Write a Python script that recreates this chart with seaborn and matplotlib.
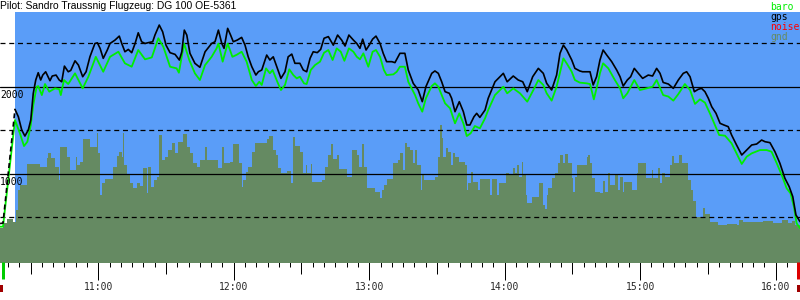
import numpy as np
import pandas as pd
import matplotlib
matplotlib.use("Agg")
import matplotlib.pyplot as plt
import seaborn as sns

TITLE = "Pilot: Sandro Traussnig Flugzeug: DG 100 OE-5361"
BASE_HOUR = 10  # times below are minutes after 10:00

# GPS altitude (m)
gps_t = [16.5, 17.8, 23.1, 24.6, 26.1, 27.5, 29.0, 30.1, 31.2, 32.3,
         33.4, 34.5, 35.4, 36.7, 38.6, 39.6, 41.3, 42.7, 43.8, 45.0,
         46.7, 47.8, 49.7, 51.2, 53.1, 54.6, 56.3, 58.5, 59.6, 60.8,
         62.2, 64.0, 65.2, 67.4, 69.3, 70.4, 71.8, 73.3, 74.8, 76.3,
         77.7, 79.2, 80.7, 82.2, 84.1, 85.1, 87.0, 88.5, 90.0, 91.8,
         94.0, 95.9, 97.0, 98.1, 99.2, 100.6, 102.8, 105.0, 107.3, 110.2,
         111.7, 113.2, 114.7, 115.7, 117.3, 118.6, 119.8, 121.6, 123.5, 125.0,
         126.4, 128.0, 129.8, 130.9, 132.4, 133.4, 134.6, 136.0, 137.5, 139.3,
         140.9, 142.7, 144.1, 145.7, 147.1, 149.3, 150.8, 152.3, 153.8, 155.2,
         157.0, 158.5, 160.0, 161.9, 164.1, 166.0, 167.8, 169.3, 171.0, 173.0,
         174.5, 175.9, 177.1, 178.6, 180.0, 181.5, 183.0, 184.8, 186.2, 187.7,
         190.0, 191.4, 193.6, 195.8, 197.3, 199.5, 201.7, 203.5, 205.1, 207.7,
         209.1, 210.6, 212.1, 213.6, 215.5, 216.5, 218.0, 219.9, 221.7, 223.2,
         224.6, 226.4, 227.6, 229.0, 231.3, 232.7, 235.7, 237.9, 239.4, 241.1,
         243.8, 246.0, 248.0, 250.0, 252.4, 254.9, 257.1, 258.6, 260.8, 263.0,
         264.5, 266.0, 267.5, 269.7, 271.1, 273.3, 274.5, 276.3, 277.8, 279.2,
         280.7, 282.2, 283.6, 285.2, 287.4, 289.6, 291.1, 292.5, 294.3, 295.8,
         297.4, 299.2, 301.1, 303.6, 305.5, 307.3, 308.8, 310.2, 312.5, 314.7,
         316.9, 319.1, 320.6, 322.1, 324.0, 325.7, 327.2, 328.7, 330.2, 331.7,
         333.6, 335.4, 337.1, 339.0, 340.5, 342.7, 345.0, 347.2, 349.4, 351.6,
         353.8, 355.3, 357.5, 359.7, 361.9, 364.1, 366.0, 367.6, 369.0, 370.8]
gps_alt = [430, 435, 1743, 1658, 1505, 1436, 1505, 1620, 1927, 2080,
           2164, 2080, 2137, 2175, 2072, 2126, 2137, 2080, 2060, 2240,
           2175, 2190, 2301, 2252, 2118, 2175, 2347, 2500, 2508, 2444,
           2329, 2425, 2500, 2539, 2585, 2500, 2405, 2432, 2394, 2500,
           2623, 2520, 2500, 2510, 2520, 2597, 2712, 2635, 2481, 2394,
           2375, 2310, 2405, 2654, 2597, 2387, 2272, 2226, 2405, 2500,
           2520, 2654, 2500, 2444, 2674, 2597, 2520, 2540, 2570, 2481,
           2347, 2233, 2137, 2175, 2195, 2272, 2367, 2310, 2347, 2214,
           2099, 2175, 2347, 2378, 2272, 2272, 2195, 2175, 2329, 2405,
           2395, 2432, 2560, 2579, 2481, 2597, 2539, 2471, 2597, 2539,
           2500, 2444, 2550, 2425, 2481, 2550, 2585, 2500, 2387, 2291,
           2291, 2280, 2387, 2387, 2195, 2042, 1965, 1831, 2003, 2157,
           2184, 2157, 2060, 1946, 1927, 1870, 1716, 1831, 1716, 1563,
           1563, 1658, 1697, 1650, 1735, 1870, 2060, 2118, 2157, 2060,
           2126, 2080, 2060, 1946, 2118, 2214, 2157, 2042, 1965, 2137,
           2387, 2481, 2425, 2310, 2214, 2184, 2175, 2175, 2175, 2023,
           2118, 2310, 2425, 2367, 2291, 2195, 2118, 2011, 2080, 2118,
           2214, 2157, 2099, 2137, 2126, 2214, 2157, 2052, 2034, 1984,
           2080, 2157, 2175, 2118, 1946, 1973, 1984, 1946, 1870, 1773,
           1697, 1582, 1563, 1544, 1448, 1333, 1218, 1275, 1333, 1344,
           1390, 1371, 1360, 1256, 1123, 951, 855, 739, 529, 452]

# Barometric altitude (m)
baro_t = [16.5, 17.8, 23.1, 25.3, 27.1, 28.6, 30.1, 31.2, 32.7, 33.4,
          35.0, 36.4, 38.3, 40.8, 42.7, 43.4, 44.8, 46.7, 49.7, 53.1,
          55.6, 58.9, 62.2, 65.2, 68.9, 71.8, 74.8, 77.7, 80.7, 83.7,
          86.6, 88.8, 91.8, 94.7, 95.7, 98.0, 100.3, 102.8, 105.0, 107.3,
          110.2, 112.4, 113.2, 115.1, 117.3, 119.4, 121.3, 123.5, 125.7, 128.0,
          129.8, 131.3, 132.4, 134.3, 136.0, 137.2, 139.3, 140.9, 142.7, 144.6,
          146.4, 147.9, 149.3, 151.1, 152.3, 154.1, 156.0, 158.2, 160.0, 161.9,
          163.8, 165.6, 167.4, 169.0, 171.0, 173.0, 174.5, 175.9, 177.4, 179.6,
          181.5, 183.0, 184.8, 186.5, 187.7, 190.7, 192.2, 193.6, 195.8, 197.3,
          200.3, 201.7, 203.5, 205.1, 207.7, 209.1, 210.6, 212.1, 213.6, 215.8,
          218.0, 219.9, 221.7, 223.2, 224.9, 226.8, 229.0, 231.3, 232.7, 235.7,
          239.4, 241.1, 243.8, 246.8, 250.0, 252.7, 254.9, 257.1, 258.6, 260.8,
          263.0, 266.0, 267.5, 269.7, 271.1, 273.3, 276.3, 277.8, 279.5, 281.4,
          282.2, 283.6, 285.9, 288.8, 291.1, 292.5, 294.3, 297.4, 299.9, 302.9,
          305.5, 307.3, 310.2, 312.5, 314.7, 316.9, 319.8, 322.1, 324.3, 326.5,
          328.7, 330.9, 333.1, 335.0, 337.6, 340.5, 342.7, 345.0, 347.2, 349.4,
          353.1, 356.0, 358.2, 360.5, 362.7, 364.9, 366.6, 368.1, 369.3, 370.8]
baro_alt = [394, 394, 1620, 1467, 1321, 1371, 1563, 1793, 2003, 2010,
            1907, 2034, 1946, 1984, 1975, 1907, 2080, 2034, 2157, 1984,
            2118, 2347, 2175, 2347, 2405, 2272, 2233, 2425, 2318, 2340,
            2560, 2463, 2233, 2214, 2164, 2500, 2310, 2157, 2080, 2252,
            2347, 2444, 2500, 2291, 2500, 2347, 2370, 2405, 2291, 2080,
            2011, 2060, 2023, 2214, 2157, 2195, 2060, 1965, 2023, 2203,
            2137, 2099, 2118, 2042, 2034, 2195, 2252, 2291, 2394, 2425,
            2310, 2444, 2405, 2301, 2444, 2405, 2347, 2318, 2387, 2233,
            2405, 2425, 2347, 2195, 2137, 2145, 2175, 2233, 2233, 2060,
            1907, 1812, 1716, 1870, 2011, 2042, 2003, 1907, 1812, 1755,
            1582, 1697, 1582, 1436, 1467, 1551, 1525, 1640, 1735, 1907,
            2003, 1927, 1984, 1927, 1831, 1965, 2080, 2023, 1927, 1843,
            2003, 2329, 2270, 2175, 2080, 2050, 2042, 2034, 1858, 2060,
            2160, 2272, 2214, 2080, 1984, 1870, 1927, 2080, 1965, 1984,
            2003, 2080, 1907, 1890, 1843, 1918, 2034, 1965, 1805, 1858,
            1820, 1697, 1563, 1448, 1440, 1352, 1237, 1115, 1199, 1237,
            1275, 1275, 1256, 1123, 988, 835, 778, 624, 433, 376]

# Ground elevation below the glider (m), step values
gnd_t = [16.5, 17.7, 19.7, 22.4, 23.6, 24.6, 25.3, 28.3, 34.2, 37.2,
         37.9, 38.9, 40.8, 42.7, 43.0, 46.0, 47.5, 50.1, 50.7, 51.9,
         53.4, 56.3, 59.3, 60.0, 60.8, 61.5, 63.0, 66.7, 68.2, 69.3,
         70.4, 70.8, 71.4, 72.6, 74.0, 75.5, 77.0, 78.5, 80.0, 81.4,
         82.2, 83.2, 84.7, 85.9, 87.0, 88.1, 89.6, 91.0, 92.5, 94.0,
         95.4, 97.6, 99.2, 100.6, 102.1, 103.6, 105.0, 107.3, 108.0, 113.2,
         114.7, 115.7, 118.3, 119.8, 122.4, 123.5, 124.2, 125.4, 126.4, 128.0,
         129.4, 134.6, 135.7, 137.5, 138.7, 139.7, 140.8, 143.4, 145.2, 146.4,
         147.1, 149.3, 150.5, 152.0, 152.6, 154.1, 154.5, 159.0, 160.4, 161.9,
         162.9, 163.8, 165.6, 166.7, 170.0, 172.2, 174.5, 175.6, 176.7, 177.7,
         178.9, 182.6, 184.8, 185.5, 186.5, 188.0, 190.4, 192.9, 193.6, 194.8,
         195.8, 196.6, 198.0, 199.5, 200.3, 201.3, 202.8, 203.2, 204.2, 209.1,
         210.6, 211.3, 212.1, 212.8, 214.0, 215.0, 216.1, 217.0, 218.0, 219.9,
         222.4, 223.2, 223.9, 225.0, 225.8, 228.3, 229.0, 233.5, 234.2, 236.7,
         237.6, 240.6, 242.0, 243.8, 244.6, 245.6, 246.5, 247.5, 248.2, 249.4,
         250.0, 252.0, 255.3, 256.8, 257.8, 258.6, 259.3, 260.8, 262.3, 263.7,
         264.5, 266.0, 266.7, 268.2, 269.7, 270.4, 271.1, 271.9, 276.3, 277.0,
         277.8, 278.5, 280.0, 282.2, 283.4, 284.4, 285.9, 286.6, 288.8, 290.3,
         291.1, 292.3, 292.8, 296.2, 298.5, 299.2, 302.6, 305.1, 305.8, 308.0,
         308.8, 309.5, 311.0, 313.2, 313.9, 315.0, 317.3, 318.4, 321.3, 322.4,
         323.5, 324.7, 328.0, 328.7, 330.9, 334.6, 338.3, 342.7, 343.9, 345.7,
         354.5, 359.0, 362.7, 365.6, 367.1, 368.6, 370.8]
gnd_alt = [376, 433, 479, 452, 586, 816, 873, 1115, 1084, 1180,
           1237, 1180, 1084, 931, 1314, 1199, 1046, 1199, 1103, 1140,
           1398, 1314, 1467, 1237, 758, 893, 939, 1084, 1207, 1256,
           1199, 1476, 1103, 988, 900, 835, 893, 860, 1065, 778,
           1084, 855, 931, 970, 1448, 1160, 1199, 1275, 1352, 1237,
           1371, 1459, 1314, 1237, 1123, 1084, 1160, 1314, 1160, 1065,
           1314, 1123, 1140, 1344, 1123, 855, 931, 1027, 1084, 1256,
           1352, 1398, 1436, 1275, 1218, 1065, 1008, 1034, 893, 1428,
           1321, 1256, 1008, 1103, 1008, 1110, 912, 931, 1084, 1218,
           1344, 1168, 1218, 1054, 969, 1275, 1218, 1084, 1344, 1084,
           835, 797, 728, 816, 873, 943, 1123, 1160, 1237, 1046,
           1360, 1306, 1275, 1123, 1275, 1103, 816, 988, 931, 970,
           1199, 1563, 1410, 1199, 1295, 1256, 1103, 1237, 1199, 1140,
           1103, 816, 893, 1027, 912, 816, 939, 758, 939, 758,
           893, 1015, 988, 1065, 1008, 1103, 970, 1141, 988, 758,
           670, 732, 893, 643, 594, 758, 835, 958, 1015, 1123,
           1218, 1123, 1229, 1123, 950, 797, 970, 1103, 1199, 1218,
           1123, 950, 797, 785, 923, 797, 1008, 873, 988, 816,
           960, 797, 912, 816, 1008, 1130, 958, 1046, 958, 1065,
           893, 1008, 970, 1103, 1210, 1130, 1218, 1130, 931, 816,
           693, 509, 605, 540, 452, 414, 425, 414, 471, 452,
           460, 433, 471, 433, 460, 414, 414]

release_t = 23.1      # end of tow, start of free flight
takeoff_t = 17.9
landing_t = 370.1
noise_t = [17.0, 370.5]
t_start, t_end = 16.47, 370.8
hour_ticks = [11, 12, 13, 14, 15, 16]
hour_labels = ["11:00", "12:00", "13:00", "14:00", "15:00", "16:00"]
solid_levels = [1000, 2000]
dashed_levels = [500, 1500, 2500]
legend_names = ["baro", "gps", "noise", "gnd"]

assert len(gps_t) == len(gps_alt)
assert len(baro_t) == len(baro_alt)
assert len(gnd_t) == len(gnd_alt)

C_BLUE = "#5a9df8"
C_GND = "#658a62"
C_BARO = "#00ee00"
C_NOISE = "#ff0000"

def hrs(m):
    return BASE_HOUR + np.asarray(m, dtype=float) / 60.0

sns.set_style("white")
MONO = ["DejaVu Sans Mono"]

fig = plt.figure(figsize=(8, 3), dpi=100)
ax = fig.add_axes([0, 38 / 300, 1, 250 / 300])
ax.set_facecolor("white")

ax.axvspan(hrs(release_t), hrs(t_end), color=C_BLUE, lw=0, zorder=0)

gx = hrs(gnd_t)
ax.fill_between(gx, 0, gnd_alt, step="post", color=C_GND, lw=0, zorder=1)
ax.fill_between(gx, -50, 0, color=C_GND, lw=0, zorder=1)

for lv in solid_levels:
    ax.axhline(lv, color="black", lw=0.9, zorder=2)
for lv in dashed_levels:
    ax.axhline(lv, color="black", lw=0.9, ls=(0, (4, 3)), zorder=2)

df_gps = pd.DataFrame({"t": hrs(gps_t), "alt": gps_alt, "m": gps_t})
df_baro = pd.DataFrame({"t": hrs(baro_t), "alt": baro_alt})
tow = df_gps[df_gps["m"] <= release_t]
free = df_gps[df_gps["m"] >= release_t]

sns.lineplot(data=df_baro, x="t", y="alt", color=C_BARO, lw=1.3,
             estimator=None, sort=False, ax=ax, zorder=3)
sns.lineplot(data=tow, x="t", y="alt", color="black", lw=1.2,
             linestyle=(0, (3, 2)), estimator=None, sort=False, ax=ax, zorder=4)
sns.lineplot(data=free, x="t", y="alt", color="black", lw=1.2,
             estimator=None, sort=False, ax=ax, zorder=4)

ax.set_xlabel("")
ax.set_ylabel("")
for s in ax.spines.values():
    s.set_visible(False)
ax.set_yticks([])

px = 0.72
ax.set_xticks(hour_ticks)
ax.set_xticklabels(hour_labels, fontfamily=MONO, fontsize=7.0)
ax.set_xticks(hrs(np.arange(0, 380, 5)), minor=True)
ax.tick_params(axis="x", which="major", direction="out", length=18 * px,
               width=1 * px, color="black", pad=2.5 * px, bottom=True)
ax.tick_params(axis="x", which="minor", direction="out", length=5 * px,
               width=1 * px, color="black", bottom=True)

sec = ax.secondary_xaxis("bottom")
sec.set_xticks([h + 0.5 for h in [10] + hour_ticks])
sec.tick_params(axis="x", direction="out", length=12 * px, width=1 * px,
                color="black", labelbottom=False)
for s in sec.spines.values():
    s.set_visible(False)

ax.set_xlim(hrs(t_start), hrs(t_end))
ax.set_ylim(-12, 2862)

for lv in solid_levels:
    ax.annotate(str(lv), xy=(0, lv), xycoords=("axes fraction", "data"),
                xytext=(0, -2.5), textcoords="offset points",
                ha="left", va="top", fontfamily=MONO, fontsize=7.0,
                color="black", zorder=6)

trans = ax.get_xaxis_transform()
ax.vlines(hrs(takeoff_t), -17 / 250, 0, transform=trans, colors="#00cc00",
          lw=3 * px, clip_on=False, zorder=6)
ax.vlines(hrs(landing_t), -17 / 250, 0, transform=trans, colors="#dd0000",
          lw=3 * px, clip_on=False, zorder=6)
ax.vlines(hrs(noise_t), -30 / 250, -23 / 250, transform=trans,
          colors="#a00000", lw=4 * px, clip_on=False, zorder=6)

fig.text(0, 1 - 6 / 300, TITLE, ha="left", va="center",
         fontfamily=["Liberation Sans"], fontsize=7.4, color="black")

leg_colors = [C_BARO, "black", C_NOISE, C_GND]
for i, (name, col) in enumerate(zip(legend_names, leg_colors)):
    fig.text(770 / 800, 1 - (6.5 + 10 * i) / 300, name, ha="left",
             va="center", fontfamily=MONO, fontsize=7.0, color=col)

fig.savefig("out.png", dpi=100)
